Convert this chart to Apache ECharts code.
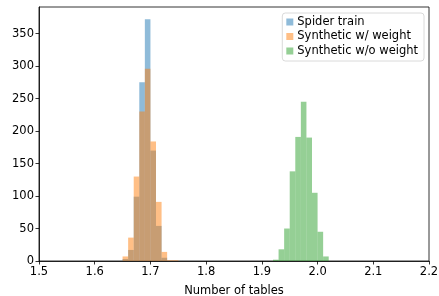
<!DOCTYPE html>
<html>
<head>
<meta charset="utf-8">
<script src="https://cdn.jsdelivr.net/npm/echarts@6/dist/echarts.min.js"></script>
<style>
  html, body { margin: 0; padding: 0; background: #fff; }
  #chart { width: 439px; height: 296px; }
</style>
</head>
<body>
<div id="chart"></div>
<script>
// histogram bins, width 0.01
const binWidth = 0.01
const spiderStart = 1.65
const spiderCounts = [3, 17, 99, 275, 372, 170, 54, 5]
const weightStart = 1.65
const weightCounts = [7, 36, 130, 230, 296, 184, 91, 14, 1, 1]
const noWeightStart = 1.92
const noWeightCounts = [2, 18, 50, 138, 191, 245, 190, 105, 45, 7]

const xTicks = [1.5, 1.6, 1.7, 1.8, 1.9, 2.0, 2.1, 2.2]
const yTicks = [0, 50, 100, 150, 200, 250, 300, 350]

function toBins(start, counts) {
  return counts.map((c, i) => [+(start + i * binWidth).toFixed(3), c])
}

function renderBar(params, api) {
  const x0 = api.value(0)
  const h = api.value(1)
  const p0 = api.coord([x0, h])
  const p1 = api.coord([x0 + binWidth, 0])
  return {
    type: 'rect',
    shape: { x: p0[0], y: p0[1], width: p1[0] - p0[0], height: p1[1] - p0[1] },
    style: api.style()
  }
}

const chart = echarts.init(document.getElementById('chart'))
const font = 'DejaVu Sans'
const fs = 11.5

chart.setOption({
  animation: false,
  textStyle: { fontFamily: font },
  grid: {
    left: 39,
    right: 10,
    top: 7,
    bottom: 35,
    outerBoundsMode: 'none',
    containLabel: false,
    show: true,
    borderColor: '#000',
    borderWidth: 0.8,
    backgroundColor: 'transparent'
  },
  legend: {
    orient: 'vertical',
    right: 15,
    top: 13,
    icon: 'rect',
    itemWidth: 7,
    itemHeight: 7,
    itemGap: 2.5,
    padding: [3, 6, 4, 4],
    backgroundColor: 'rgba(255,255,255,0.8)',
    borderColor: '#d0d0d0',
    borderWidth: 0.8,
    borderRadius: 3,
    textStyle: { fontSize: fs, color: '#000', fontFamily: font, padding: [0, 0, 0, -1] },
    data: ['Spider train', 'Synthetic w/ weight', 'Synthetic w/o weight']
  },
  xAxis: {
    type: 'value',
    min: 1.5,
    max: 2.2,
    interval: 0.1,
    name: 'Number of tables',
    nameLocation: 'middle',
    nameGap: 24,
    nameTextStyle: { fontSize: fs, color: '#000', fontFamily: font },
    splitLine: { show: false },
    axisLine: { show: true, onZero: false, lineStyle: { color: '#000', width: 0.8 } },
    axisTick: { show: true, length: 3.5, lineStyle: { color: '#000', width: 0.8 }, customValues: xTicks },
    axisLabel: {
      fontSize: fs,
      color: '#000',
      margin: 5,
      customValues: xTicks,
      formatter: v => v.toFixed(1)
    }
  },
  yAxis: {
    type: 'value',
    min: 0,
    max: 391,
    interval: 50,
    splitLine: { show: false },
    axisLine: { show: true, lineStyle: { color: '#000', width: 0.8 } },
    axisTick: { show: true, length: 3.5, lineStyle: { color: '#000', width: 0.8 }, customValues: yTicks },
    axisLabel: { fontSize: fs, color: '#000', margin: 5, customValues: yTicks }
  },
  series: [
    {
      name: 'Spider train',
      type: 'custom',
      renderItem: renderBar,
      encode: { x: 0, y: 1 },
      itemStyle: { color: 'rgba(31,119,180,0.5)' },
      data: toBins(spiderStart, spiderCounts)
    },
    {
      name: 'Synthetic w/ weight',
      type: 'custom',
      renderItem: renderBar,
      encode: { x: 0, y: 1 },
      itemStyle: { color: 'rgba(255,127,14,0.5)' },
      data: toBins(weightStart, weightCounts)
    },
    {
      name: 'Synthetic w/o weight',
      type: 'custom',
      renderItem: renderBar,
      encode: { x: 0, y: 1 },
      itemStyle: { color: 'rgba(44,160,44,0.5)' },
      data: toBins(noWeightStart, noWeightCounts)
    }
  ]
})
</script>
</body>
</html>
